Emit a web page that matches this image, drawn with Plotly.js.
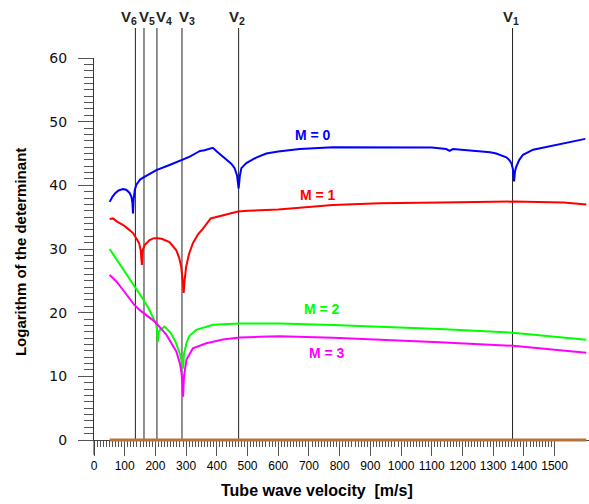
<!DOCTYPE html>
<html>
<head>
<meta charset="utf-8">
<script src="https://cdn.plot.ly/plotly-3.0.1.min.js"></script>
<style>html,body{margin:0;padding:0;background:#fff;}#chart{width:589px;height:504px;}</style>
</head>
<body>
<div id="chart"></div>
<script>
// ---- data ----
const seriesNames = ["M = 0", "M = 1", "M = 2", "M = 3"];

const m0Vel = [51,60,70,80,94,105,116,122,125,127,129,133,138,150,160,180,203,246,290,312,330,345,360,387,400,420,431,447,458,466,471,475,480,496,530,561,600,670,778,930,1039,1100,1147,1158,1169,1200,1256,1290,1310,1330,1343,1352,1359,1364,1368,1371,1375,1385,1397,1430,1460,1495,1550,1600];
const m0Val = [37.4,38.2,38.8,39.2,39.4,39.3,38.8,38.2,37.3,35.6,37.8,39.3,40.1,40.9,41.2,41.8,42.4,43.2,44.1,44.5,45.0,45.4,45.5,45.9,45.3,44.5,44.0,43.4,42.7,41.5,39.5,41.5,42.7,43.5,44.4,45.0,45.3,45.7,46.0,46.0,46.05,45.95,45.7,45.4,45.7,45.6,45.4,45.2,45.0,44.7,44.4,44.0,43.5,42.6,40.6,42.2,42.9,44.0,44.8,45.6,45.9,46.3,46.8,47.3];

const m1Vel = [51,62,75,94,110,127,140,147,152,156,159,165,181,195,208,220,246,268,278,284,289,292,295,300,310,322,340,355,380,420,469,500,600,778,930,1130,1365,1530,1603];
const m1Val = [34.7,34.8,34.3,33.8,33.2,32.5,31.5,30.9,29.8,27.5,29.9,30.6,31.4,31.7,31.7,31.6,31.1,29.8,28.5,27.2,25.0,23.1,25.0,27.2,29.3,30.9,32.4,33.2,34.8,35.3,35.9,36.0,36.2,36.9,37.2,37.3,37.45,37.3,37.0];

const m2Vel = [51,100,140,160,180,195,203,206,208,211,215,230,250,265,272,280,287,290,293,301,310,333,387,474,540,604,778,930,1125,1364,1603];
const m2Val = [30.0,26.5,23.6,22.1,20.5,19.0,18.1,17.0,15.4,17.0,17.3,17.8,16.8,15.5,14.7,13.5,12.0,11.2,13.5,15.2,16.3,17.3,18.1,18.3,18.3,18.3,18.06,17.8,17.45,16.85,15.75];

const m3Vel = [51,73,94,114,130,149,198,236,268,280,285,288,290,293,301,322,366,420,474,540,604,779,930,1125,1364,1603];
const m3Val = [25.9,24.9,23.6,22.3,21.3,20.4,18.6,16.5,13.9,12.0,10.5,8.8,6.8,10.0,12.6,14.4,15.2,15.8,16.1,16.2,16.3,16.07,15.8,15.35,14.8,13.7];

const baselineVel = [51, 1603];
const baselineVal = [0, 0];

const markerNames = ["V<sub>1</sub>","V<sub>2</sub>","V<sub>3</sub>","V<sub>4</sub>","V<sub>5</sub>","V<sub>6</sub>"];
const markerVel = [1363, 471, 286.5, 205, 162.8, 134.8];

const xTickVals = [0,100,200,300,400,500,600,700,800,900,1000,1100,1200,1300,1400,1500];
const xTickText = ["0","100","200","300","400","500","600","700","800","900","1000","1100","1200","1300","1400","1500"];
const yTickVals = [0,10,20,30,40,50,60];
const yTickText = ["0","10","20","30","40","50","60"];

// ---- build ----
const colors = ["#0000ff", "#ff0000", "#00ff00", "#ff00ff"];
const vels = [m0Vel, m1Vel, m2Vel, m3Vel];
const vals = [m0Val, m1Val, m2Val, m3Val];

const traces = seriesNames.map((n, i) => ({
  type: "scatter", mode: "lines", name: n,
  x: vels[i], y: vals[i],
  line: {color: colors[i], width: 2},
  hoverinfo: "skip"
}));

const minorX = [];
for (let v = 10; v < 1500; v += 10) if (v % 100 !== 0) minorX.push(v);

const shapes = [];
markerVel.forEach(v => shapes.push({
  type: "line", xref: "x", yref: "paper", x0: v, x1: v, y0: 0, y1: 1.0785,
  line: {color: "#222", width: 1}, layer: "below"
}));
shapes.push({
  type: "line", xref: "x", yref: "paper",
  x0: baselineVel[0], x1: baselineVel[1], y0: baselineVal[0], y1: baselineVal[1],
  line: {color: "#b8733a", width: 3}, layer: "above"
});
shapes.push({
  type: "line", xref: "paper", yref: "paper", x0: 0, x1: 0, y0: 0, y1: -0.039,
  line: {color: "#333", width: 1}
});

const vShift = [-2, -1.5, 5, 7, 3, -6];
const annotations = markerNames.map((t, i) => ({
  xref: "x", yref: "paper", x: markerVel[i], y: 1.105, xshift: vShift[i],
  text: t, showarrow: false, xanchor: "center", yanchor: "middle",
  font: {family: "Liberation Sans, Arial", size: 15, color: "#222", weight: "bold"}
}));

const labelPos = [[712, 47.9], [729, 38.5], [744, 20.6], [760, 13.7]];
seriesNames.forEach((n, i) => annotations.push({
  xref: "x", yref: "y", x: labelPos[i][0], y: labelPos[i][1],
  text: "<b>" + n + "</b>", showarrow: false,
  font: {family: "Liberation Sans, Arial", size: 14, color: colors[i]}
}));

annotations.push({
  xref: "paper", yref: "paper", x: 0.4505, y: -0.1335, xanchor: "center", yanchor: "middle",
  text: "<b>Tube wave velocity\u00a0 [m/s]</b>", showarrow: false,
  font: {family: "Liberation Sans, Arial", size: 16, color: "#000"}
});
annotations.push({
  xref: "paper", yref: "paper", x: -0.1495, y: 0.492, xanchor: "center", yanchor: "middle",
  text: "<b>Logarithm of the determinant</b>", showarrow: false, textangle: -90,
  font: {family: "Liberation Sans, Arial", size: 15, color: "#000"}
});

const layout = {
  width: 589, height: 504,
  margin: {l: 94, r: 0, t: 58, b: 64},
  paper_bgcolor: "#fff", plot_bgcolor: "#fff",
  showlegend: false,
  font: {family: "Liberation Sans, Arial", color: "#000"},
  xaxis: {
    range: [0, 1612], tickmode: "array", tickvals: xTickVals, ticktext: xTickText,
    ticks: "outside", ticklen: 15, tickwidth: 1, tickcolor: "#555",
    showline: true, linecolor: "#444", linewidth: 1,
    showgrid: false, zeroline: false,
    tickfont: {family: "Liberation Sans, Arial", size: 12, color: "#000"},
    minor: {tickmode: "array", tickvals: minorX, ticks: "outside", ticklen: 6, tickcolor: "#555", showgrid: false}
  },
  yaxis: {
    range: [0, 60], tickmode: "array", tickvals: yTickVals, ticktext: yTickText,
    ticks: "outside", ticklen: 15, tickwidth: 1, tickcolor: "#555",
    showline: true, linecolor: "#333", linewidth: 1,
    showgrid: false, zeroline: false,
    ticklabelstandoff: 8,
    tickfont: {family: "DejaVu Sans", size: 14, color: "#111"},
    minor: {dtick: 1, tick0: 0, ticks: "outside", ticklen: 9, tickcolor: "#555", showgrid: false}
  },
  shapes: shapes,
  annotations: annotations
};

Plotly.newPlot("chart", traces, layout, {displayModeBar: false, staticPlot: true});
</script>
</body>
</html>
